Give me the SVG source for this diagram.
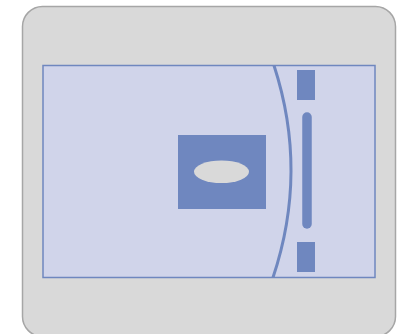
<svg xmlns="http://www.w3.org/2000/svg" width="414" height="334" viewBox="0 0 414 334">
<style>
.blue{fill:#6f87bf}
</style>
<g id="housing">
<rect x="22.5" y="6.5" width="373" height="330" rx="20" fill="#d9d9d9" stroke="#a6a6a6" stroke-width="1.5"/>
</g>
<g id="panel">
<rect x="43" y="65.5" width="332" height="212" fill="#d0d4ea" stroke="#6f87bf" stroke-width="1.5"/>
</g>
<g id="arc">
<path d="M274 65.5 Q308.5 171.5 273 277.5" fill="none" stroke="#6f87bf" stroke-width="3"/>
</g>
<g id="top-block"><rect class="blue" x="297" y="70" width="18" height="30"/></g>
<g id="bottom-block"><rect class="blue" x="297" y="242" width="18" height="30"/></g>
<g id="slot"><line x1="307" y1="117" x2="307" y2="224" stroke="#6f87bf" stroke-width="9.5" stroke-linecap="round"/></g>
<g id="center">
<rect class="blue" x="178" y="135" width="88" height="74"/>
<ellipse cx="221.5" cy="171.8" rx="27.5" ry="11.3" fill="#d9d9d9"/>
</g>
</svg>
